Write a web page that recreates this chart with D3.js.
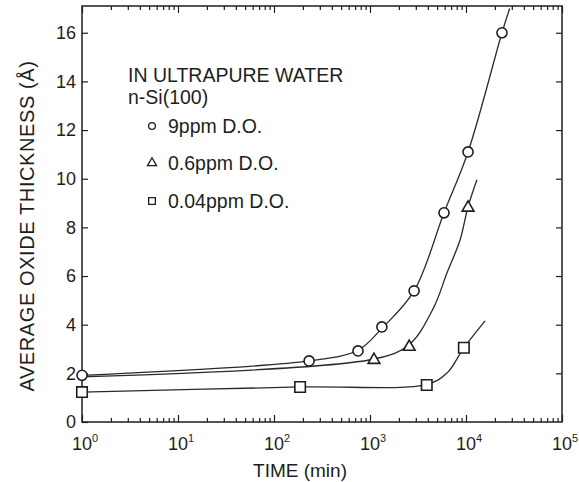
<!DOCTYPE html>
<html>
<head>
<meta charset="utf-8">
<script src="https://cdn.jsdelivr.net/npm/d3@7"></script>
<style>
  body { margin: 0; background: #fff; }
  text { font-family: "Liberation Sans", Arial, Helvetica, sans-serif; fill: #1e1e1e; }
</style>
</head>
<body>
<div id="chart"></div>
<script>
// measured points (time in min, thickness in angstrom)
var times9 = [1, 232, 750, 1330, 2880, 5900, 10500, 23700];
var thick9 = [1.92, 2.51, 2.92, 3.91, 5.39, 8.6, 11.1, 16.0];
var times06 = [1100, 2560, 10500];
var thick06 = [2.59, 3.13, 8.85];
var times004 = [1, 187, 3900, 9500];
var thick004 = [1.23, 1.44, 1.52, 3.05];

// hand-drawn fit curves
var fitTimes9 = [1, 232, 750, 1330, 2880, 5900, 10500, 23700, 28500];
var fitThick9 = [1.92, 2.51, 2.95, 3.85, 5.39, 8.6, 11.1, 16.0, 17.0];
var fitTimes06 = [1, 1100, 2560, 4600, 6300, 8700, 10500, 13000];
var fitThick06 = [1.86, 2.59, 3.18, 4.7, 6.1, 7.5, 8.85, 9.96];
var fitTimes004 = [1, 187, 3900, 6300, 9500, 15800];
var fitThick004 = [1.23, 1.44, 1.55, 2.0, 3.05, 4.16];

var decades = [1, 10, 100, 1000, 10000, 100000];
var decadeExp = ["0", "1", "2", "3", "4", "5"];
var yTicks = [0, 2, 4, 6, 8, 10, 12, 14, 16];

var legendTitle = ["IN ULTRAPURE WATER", "n-Si(100)"];
var legendLabels = ["9ppm D.O.", "0.6ppm D.O.", "0.04ppm D.O."];

var W = 579, H = 482;
var pLeft = 82, pRight = 562, pTop = 6, pBottom = 422;
var ink = "#1e1e1e";

var svg = d3.select("#chart").append("svg")
    .attr("width", W)
    .attr("height", H);

svg.append("rect").attr("width", W).attr("height", H).attr("fill", "#fff");

var x = d3.scaleLog().domain([1, 1e5]).range([pLeft, pRight]);
var y = d3.scaleLinear().domain([0, 17.1]).range([pBottom, pTop]);

// minor ticks 2..9 in every decade
var minors = [];
decades.slice(0, 5).forEach(function(d) {
    for (var k = 2; k <= 9; k++) minors.push(d * k);
});

function clean(g) {
    g.select(".domain").remove();
    g.selectAll("line").attr("stroke", ink).attr("stroke-width", 1.2);
}

// left axis with labels
svg.append("g")
    .attr("transform", "translate(" + pLeft + ",0)")
    .call(d3.axisLeft(y).tickValues(yTicks).tickSize(-6).tickPadding(6).tickFormat(d3.format("d")))
    .call(clean)
    .call(function(g) {
        g.selectAll("text").attr("font-size", 18).attr("fill", ink)
            .style("font-family", "'Liberation Sans', Arial, sans-serif");
    });

// right axis, ticks only
svg.append("g")
    .attr("transform", "translate(" + pRight + ",0)")
    .call(d3.axisRight(y).tickValues(yTicks.slice(1)).tickSize(-6).tickFormat(""))
    .call(clean);

// bottom and top axes: major + minor ticks
svg.append("g")
    .attr("transform", "translate(0," + pBottom + ")")
    .call(d3.axisBottom(x).tickValues(decades).tickSize(-7).tickFormat(""))
    .call(clean);
svg.append("g")
    .attr("transform", "translate(0," + pBottom + ")")
    .call(d3.axisBottom(x).tickValues(minors).tickSize(-4).tickFormat(""))
    .call(clean);
svg.append("g")
    .attr("transform", "translate(0," + pTop + ")")
    .call(d3.axisTop(x).tickValues(decades).tickSize(-7).tickFormat(""))
    .call(clean);
svg.append("g")
    .attr("transform", "translate(0," + pTop + ")")
    .call(d3.axisTop(x).tickValues(minors).tickSize(-4).tickFormat(""))
    .call(clean);

// frame
svg.append("rect")
    .attr("x", pLeft).attr("y", pTop)
    .attr("width", pRight - pLeft).attr("height", pBottom - pTop)
    .attr("fill", "none").attr("stroke", ink).attr("stroke-width", 1.5);

// x tick labels 10^n
var xl = svg.selectAll(".xlab")
    .data(decades)
    .enter().append("text")
    .attr("class", "xlab")
    .attr("x", function(d) { return x(d) + 3; })
    .attr("y", 450)
    .attr("text-anchor", "middle")
    .attr("font-size", 18);
xl.append("tspan").text("10");
xl.append("tspan")
    .attr("font-size", 11)
    .attr("dy", -8)
    .text(function(d, i) { return decadeExp[i]; });

// axis titles
svg.append("text")
    .attr("x", 300).attr("y", 477)
    .attr("text-anchor", "middle")
    .attr("font-size", 19)
    .text("TIME (min)");

svg.append("text")
    .attr("transform", "translate(34,226) rotate(-90)")
    .attr("text-anchor", "middle")
    .attr("font-size", 20)
    .attr("letter-spacing", 0.6)
    .text("AVERAGE OXIDE THICKNESS (Å)");

// fit curves
var line = d3.line()
    .x(function(d) { return x(d[0]); })
    .y(function(d) { return y(d[1]); })
    .curve(d3.curveCatmullRom.alpha(0.5));

function pairs(a, b) { return a.map(function(v, i) { return [v, b[i]]; }); }

var curves = [pairs(fitTimes9, fitThick9), pairs(fitTimes06, fitThick06), pairs(fitTimes004, fitThick004)];
svg.selectAll(".fit")
    .data(curves)
    .enter().append("path")
    .attr("class", "fit")
    .attr("d", line)
    .attr("fill", "none")
    .attr("stroke", "#2a2a2a")
    .attr("stroke-width", 1.3);

// markers
var sym = [d3.symbolCircle, d3.symbolTriangle, d3.symbolSquare];
var symSize = [80, 60, 110];
var series = [pairs(times9, thick9), pairs(times06, thick06), pairs(times004, thick004)];

series.forEach(function(pts, s) {
    svg.selectAll(".m" + s)
        .data(pts)
        .enter().append("path")
        .attr("class", "m" + s)
        .attr("transform", function(d) { return "translate(" + x(d[0]) + "," + (y(d[1]) + (s === 1 ? 1 : 0)) + ")"; })
        .attr("d", d3.symbol().type(sym[s]).size(symSize[s]))
        .attr("fill", "#fff")
        .attr("stroke", ink)
        .attr("stroke-width", 1.6);
});

// legend
svg.selectAll(".ltitle")
    .data(legendTitle)
    .enter().append("text")
    .attr("class", "ltitle")
    .attr("x", 128)
    .attr("y", function(d, i) { return i === 0 ? 82 : 104; })
    .attr("font-size", 19.5)
    .text(function(d) { return d; });

var legY = [133, 170, 208];
svg.selectAll(".ltext")
    .data(legendLabels)
    .enter().append("text")
    .attr("class", "ltext")
    .attr("x", 168)
    .attr("y", function(d, i) { return legY[i]; })
    .attr("font-size", 19.5)
    .text(function(d) { return d; });

svg.selectAll(".lsym")
    .data(legendLabels)
    .enter().append("path")
    .attr("class", "lsym")
    .attr("transform", function(d, i) { return "translate(152," + (legY[i] - 7) + ")"; })
    .attr("d", function(d, i) { return d3.symbol().type(sym[i]).size(i === 2 ? 45 : 36)(); })
    .attr("fill", "none")
    .attr("stroke", ink)
    .attr("stroke-width", 1.3);
</script>
</body>
</html>
